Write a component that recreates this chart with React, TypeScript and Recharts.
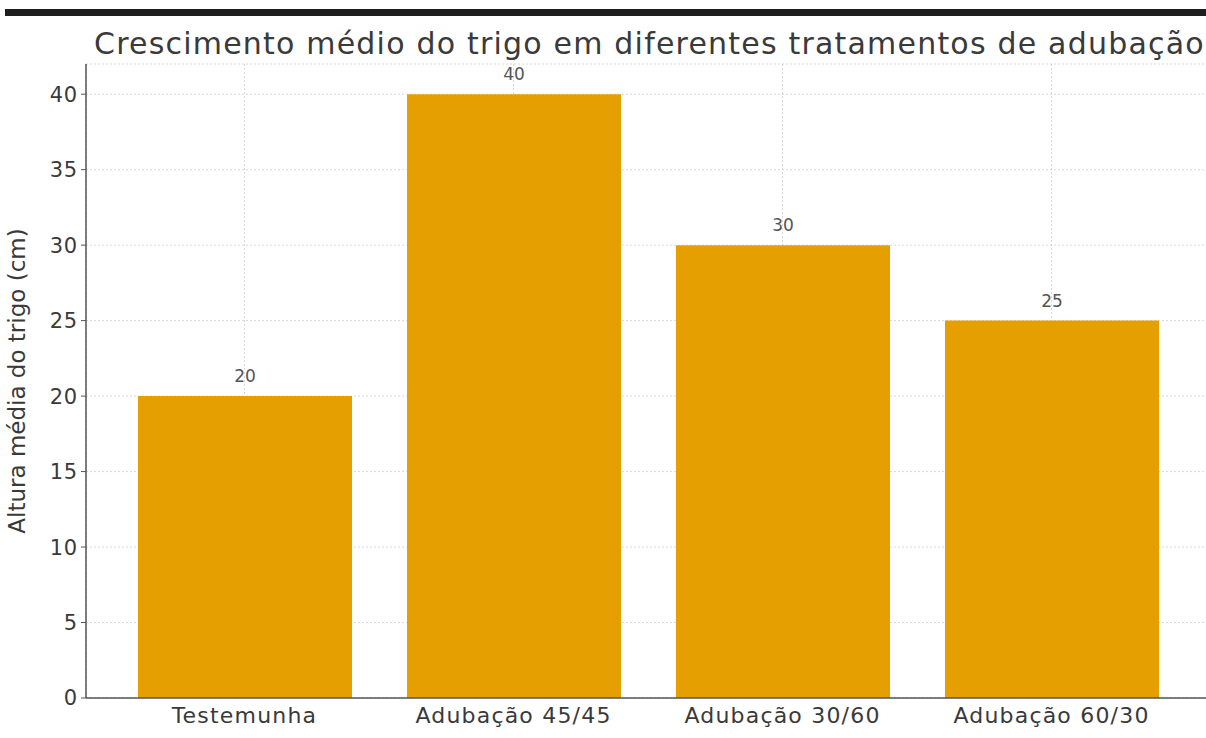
import { BarChart, Bar, XAxis, YAxis, CartesianGrid, LabelList } from 'recharts';

const treatments = ['Testemunha', 'Adubação 45/45', 'Adubação 30/60', 'Adubação 60/30'];
const heights = [20, 40, 30, 25];
const yTicks = [0, 5, 10, 15, 20, 25, 30, 35, 40];

const chartTitle = 'Crescimento médio do trigo em diferentes tratamentos de adubação';
const yLabel = 'Altura média do trigo (cm)';

const data = treatments.map((name, i) => ({ name, value: heights[i] }));

const font = '"DejaVu Sans", sans-serif';

export default function App() {
  return (
    <div style={{ position: 'absolute', left: 0, top: 0, width: 1206, height: 738, overflow: 'hidden', background: '#fff', fontFamily: font }}>
      <div style={{ position: 'absolute', left: 5, top: 9, width: 1201, height: 7, background: '#1e1e1e' }} />
      <div style={{ position: 'absolute', left: 94, top: 26, fontSize: 30, letterSpacing: 1.2, color: '#3a3a3a', whiteSpace: 'nowrap', lineHeight: '36px' }}>
        {chartTitle}
      </div>
      <BarChart width={1215} height={738} data={data} margin={{ top: 64, right: 5, bottom: 0, left: 0 }}>
        <XAxis
          dataKey="name"
          padding={{ left: 24, right: 24 }}
          height={40}
          tickLine={false}
          axisLine={{ stroke: '#555', strokeWidth: 1.5 }}
          tick={{ fill: '#3a3a3a', fontSize: 22, letterSpacing: 1.2, fontFamily: font }}
          tickMargin={3}
        />
        <YAxis
          type="number"
          domain={[0, 42]}
          ticks={yTicks}
          width={86}
          axisLine={{ stroke: '#555', strokeWidth: 1.5 }}
          tickLine={{ stroke: '#555' }}
          tickSize={5}
          tick={{ fill: '#3a3a3a', fontSize: 21, letterSpacing: 0.8, fontFamily: font }}
          tickMargin={3}
          label={{ value: yLabel, angle: -90, position: 'insideLeft', dx: 12, style: { textAnchor: 'middle', fill: '#3a3a3a', fontSize: 23, fontFamily: font } }}
        />
        <Bar dataKey="value" fill="#E69F00" barSize={214} isAnimationActive={false}>
          <LabelList dataKey="value" position="top" offset={14} style={{ fill: '#555', fontSize: 17, fontFamily: font }} />
        </Bar>
        <CartesianGrid stroke="#c0c0c0" strokeDasharray="2 2" strokeOpacity={0.6} />
      </BarChart>
    </div>
  );
}
